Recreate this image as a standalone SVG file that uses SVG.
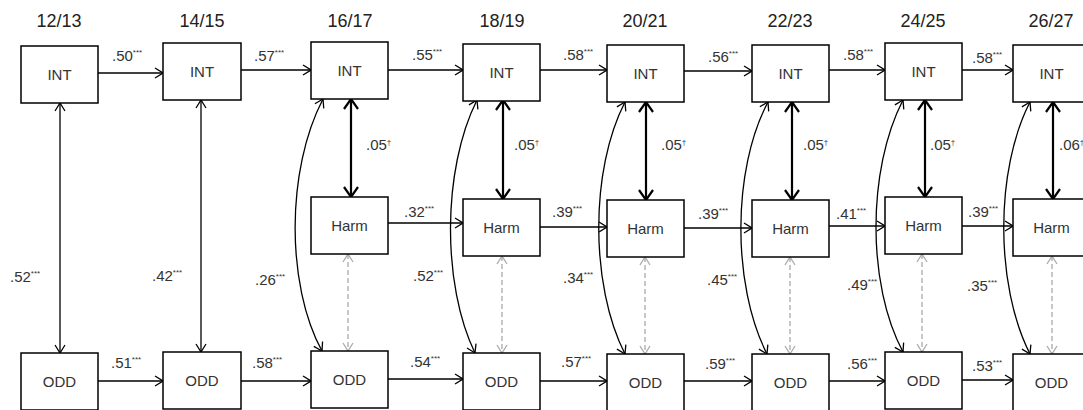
<svg xmlns="http://www.w3.org/2000/svg" width="1083" height="410" viewBox="0 0 1083 410">
<style>
.box{fill:#fff;stroke:#000;stroke-width:1.5}
.lbl{font-family:"Liberation Sans",Arial,sans-serif;font-size:15px;fill:#333;text-anchor:middle}
.hdr{font-family:"Liberation Sans",Arial,sans-serif;font-size:18px;fill:#222;text-anchor:middle}
.coef{font-family:"Liberation Sans",Arial,sans-serif;font-size:15px;fill:#333}
.sup{font-size:8px}
.ln{fill:none;stroke:#000;stroke-width:1.3}
.thick{fill:none;stroke:#000;stroke-width:2.2}
.dash{fill:none;stroke:#aaa;stroke-width:1.3;stroke-dasharray:5 3}
</style>
<defs>
<marker id="ah" viewBox="0 0 10 12" refX="9" refY="6" markerWidth="10" markerHeight="12" markerUnits="userSpaceOnUse" orient="auto-start-reverse">
<path d="M1,1 L9,6 L1,11" fill="none" stroke="#000" stroke-width="1.3"/>
</marker>
<marker id="aht" viewBox="0 0 12 16" refX="11" refY="8" markerWidth="12" markerHeight="16" markerUnits="userSpaceOnUse" orient="auto-start-reverse">
<path d="M1,1 L11,8 L1,15" fill="none" stroke="#000" stroke-width="2.2"/>
</marker>
<marker id="ahg" viewBox="0 0 10 12" refX="9" refY="6" markerWidth="10" markerHeight="12" markerUnits="userSpaceOnUse" orient="auto-start-reverse">
<path d="M1,1 L9,6 L1,11" fill="none" stroke="#aaa" stroke-width="1.3"/>
</marker>
</defs>
<g id="headers">
<text class="hdr" x="59" y="27">12/13</text>
<text class="hdr" x="202" y="27">14/15</text>
<text class="hdr" x="350" y="27">16/17</text>
<text class="hdr" x="502" y="27">18/19</text>
<text class="hdr" x="645" y="27">20/21</text>
<text class="hdr" x="790" y="27">22/23</text>
<text class="hdr" x="923" y="27">24/25</text>
<text class="hdr" x="1051" y="27">26/27</text>
</g>
<g id="connectors">
<path class="ln" marker-end="url(#ah)" d="M98,73 H163"/>
<path class="ln" marker-end="url(#ah)" d="M241,70 H311"/>
<path class="ln" marker-end="url(#ah)" d="M388,70 H463"/>
<path class="ln" marker-end="url(#ah)" d="M540,70 H607"/>
<path class="ln" marker-end="url(#ah)" d="M684,71 H752"/>
<path class="ln" marker-end="url(#ah)" d="M829,70 H885"/>
<path class="ln" marker-end="url(#ah)" d="M962,70 H1013"/>
<path class="ln" marker-end="url(#ah)" d="M388,223 H463"/>
<path class="ln" marker-end="url(#ah)" d="M540,227 H607"/>
<path class="ln" marker-end="url(#ah)" d="M684,228 H752"/>
<path class="ln" marker-end="url(#ah)" d="M829,226 H885"/>
<path class="ln" marker-end="url(#ah)" d="M962,226 H1013"/>
<path class="ln" marker-end="url(#ah)" d="M98,381 H163"/>
<path class="ln" marker-end="url(#ah)" d="M241,381 H311"/>
<path class="ln" marker-end="url(#ah)" d="M388,379 H463"/>
<path class="ln" marker-end="url(#ah)" d="M540,381 H607"/>
<path class="ln" marker-end="url(#ah)" d="M684,381 H752"/>
<path class="ln" marker-end="url(#ah)" d="M829,381 H885"/>
<path class="ln" marker-end="url(#ah)" d="M962,380 H1013"/>
<path class="ln" marker-start="url(#ah)" marker-end="url(#ah)" d="M60,103 V353"/>
<path class="ln" marker-start="url(#ah)" marker-end="url(#ah)" d="M201,100 V352"/>
<path class="ln" marker-start="url(#ah)" marker-end="url(#ah)" d="M323,99 C286,170 286,285 322,351"/>
<path class="ln" marker-start="url(#ah)" marker-end="url(#ah)" d="M477,100 C442,170 442,285 475,353"/>
<path class="ln" marker-start="url(#ah)" marker-end="url(#ah)" d="M625,102 C590,170 590,285 625,354"/>
<path class="ln" marker-start="url(#ah)" marker-end="url(#ah)" d="M768,102 C732,170 732,285 767,354"/>
<path class="ln" marker-start="url(#ah)" marker-end="url(#ah)" d="M903,100 C867,170 867,285 903,352"/>
<path class="ln" marker-start="url(#ah)" marker-end="url(#ah)" d="M1030,102 C995,170 995,285 1030,354"/>
<path class="thick" marker-start="url(#aht)" marker-end="url(#aht)" d="M351,99 V197"/>
<path class="thick" marker-start="url(#aht)" marker-end="url(#aht)" d="M503,100 V199"/>
<path class="thick" marker-start="url(#aht)" marker-end="url(#aht)" d="M646,102 V200"/>
<path class="thick" marker-start="url(#aht)" marker-end="url(#aht)" d="M792,102 V200"/>
<path class="thick" marker-start="url(#aht)" marker-end="url(#aht)" d="M925,100 V197"/>
<path class="thick" marker-start="url(#aht)" marker-end="url(#aht)" d="M1053,102 V199"/>
<path class="dash" marker-start="url(#ahg)" marker-end="url(#ahg)" d="M348,254 V351"/>
<path class="dash" marker-start="url(#ahg)" marker-end="url(#ahg)" d="M502,256 V353"/>
<path class="dash" marker-start="url(#ahg)" marker-end="url(#ahg)" d="M645,257 V354"/>
<path class="dash" marker-start="url(#ahg)" marker-end="url(#ahg)" d="M790,257 V354"/>
<path class="dash" marker-start="url(#ahg)" marker-end="url(#ahg)" d="M922,254 V352"/>
<path class="dash" marker-start="url(#ahg)" marker-end="url(#ahg)" d="M1052,256 V354"/>
</g>
<g id="coefficients">
<text class="coef" x="112" y="61">.50<tspan class="sup" dy="-6">***</tspan></text>
<text class="coef" x="254" y="61">.57<tspan class="sup" dy="-6">***</tspan></text>
<text class="coef" x="412" y="60">.55<tspan class="sup" dy="-6">***</tspan></text>
<text class="coef" x="563" y="60">.58<tspan class="sup" dy="-6">***</tspan></text>
<text class="coef" x="708" y="62">.56<tspan class="sup" dy="-6">***</tspan></text>
<text class="coef" x="843" y="60">.58<tspan class="sup" dy="-6">***</tspan></text>
<text class="coef" x="972" y="63">.58<tspan class="sup" dy="-6">***</tspan></text>
<text class="coef" x="404" y="217">.32<tspan class="sup" dy="-6">***</tspan></text>
<text class="coef" x="552" y="217">.39<tspan class="sup" dy="-6">***</tspan></text>
<text class="coef" x="698" y="219">.39<tspan class="sup" dy="-6">***</tspan></text>
<text class="coef" x="836" y="219">.41<tspan class="sup" dy="-6">***</tspan></text>
<text class="coef" x="968" y="217">.39<tspan class="sup" dy="-6">***</tspan></text>
<text class="coef" x="111" y="368">.51<tspan class="sup" dy="-6">***</tspan></text>
<text class="coef" x="252" y="368">.58<tspan class="sup" dy="-6">***</tspan></text>
<text class="coef" x="410" y="367">.54<tspan class="sup" dy="-6">***</tspan></text>
<text class="coef" x="561" y="367">.57<tspan class="sup" dy="-6">***</tspan></text>
<text class="coef" x="705" y="369">.59<tspan class="sup" dy="-6">***</tspan></text>
<text class="coef" x="847" y="369">.56<tspan class="sup" dy="-6">***</tspan></text>
<text class="coef" x="972" y="371">.53<tspan class="sup" dy="-6">***</tspan></text>
<text class="coef" x="10" y="282">.52<tspan class="sup" dy="-6">***</tspan></text>
<text class="coef" x="152" y="281">.42<tspan class="sup" dy="-6">***</tspan></text>
<text class="coef" x="255" y="285">.26<tspan class="sup" dy="-6">***</tspan></text>
<text class="coef" x="413" y="281">.52<tspan class="sup" dy="-6">***</tspan></text>
<text class="coef" x="563" y="283">.34<tspan class="sup" dy="-6">***</tspan></text>
<text class="coef" x="707" y="285">.45<tspan class="sup" dy="-6">***</tspan></text>
<text class="coef" x="847" y="290">.49<tspan class="sup" dy="-6">***</tspan></text>
<text class="coef" x="967" y="291">.35<tspan class="sup" dy="-6">***</tspan></text>
<text class="coef" x="366" y="150">.05<tspan class="sup" dy="-5">†</tspan></text>
<text class="coef" x="514" y="150">.05<tspan class="sup" dy="-5">†</tspan></text>
<text class="coef" x="661" y="150">.05<tspan class="sup" dy="-5">†</tspan></text>
<text class="coef" x="803" y="150">.05<tspan class="sup" dy="-5">†</tspan></text>
<text class="coef" x="930" y="150">.05<tspan class="sup" dy="-5">†</tspan></text>
<text class="coef" x="1059" y="150">.06<tspan class="sup" dy="-5">†</tspan></text>
</g>
<g id="int1"><rect class="box" x="21" y="46" width="77" height="57"/><text class="lbl" x="59.5" y="80">INT</text></g>
<g id="odd1"><rect class="box" x="21" y="353" width="77" height="57"/><text class="lbl" x="59.5" y="387">ODD</text></g>
<g id="int2"><rect class="box" x="163" y="43" width="78" height="57"/><text class="lbl" x="202" y="77">INT</text></g>
<g id="odd2"><rect class="box" x="163" y="352" width="78" height="57"/><text class="lbl" x="202" y="386">ODD</text></g>
<g id="int3"><rect class="box" x="311" y="42" width="77" height="57"/><text class="lbl" x="349.5" y="76">INT</text></g>
<g id="harm3"><rect class="box" x="311" y="197" width="77" height="57"/><text class="lbl" x="349.5" y="231">Harm</text></g>
<g id="odd3"><rect class="box" x="311" y="351" width="77" height="57"/><text class="lbl" x="349.5" y="385">ODD</text></g>
<g id="int4"><rect class="box" x="463" y="44" width="77" height="57"/><text class="lbl" x="501.5" y="78">INT</text></g>
<g id="harm4"><rect class="box" x="463" y="199" width="77" height="57"/><text class="lbl" x="501.5" y="233">Harm</text></g>
<g id="odd4"><rect class="box" x="463" y="353" width="77" height="57"/><text class="lbl" x="501.5" y="387">ODD</text></g>
<g id="int5"><rect class="box" x="607" y="45" width="77" height="57"/><text class="lbl" x="645.5" y="79">INT</text></g>
<g id="harm5"><rect class="box" x="607" y="200" width="77" height="57"/><text class="lbl" x="645.5" y="234">Harm</text></g>
<g id="odd5"><rect class="box" x="607" y="354" width="77" height="57"/><text class="lbl" x="645.5" y="388">ODD</text></g>
<g id="int6"><rect class="box" x="752" y="45" width="77" height="57"/><text class="lbl" x="790.5" y="79">INT</text></g>
<g id="harm6"><rect class="box" x="752" y="200" width="77" height="57"/><text class="lbl" x="790.5" y="234">Harm</text></g>
<g id="odd6"><rect class="box" x="752" y="354" width="77" height="57"/><text class="lbl" x="790.5" y="388">ODD</text></g>
<g id="int7"><rect class="box" x="885" y="43" width="77" height="57"/><text class="lbl" x="923.5" y="77">INT</text></g>
<g id="harm7"><rect class="box" x="885" y="197" width="77" height="57"/><text class="lbl" x="923.5" y="231">Harm</text></g>
<g id="odd7"><rect class="box" x="885" y="352" width="77" height="57"/><text class="lbl" x="923.5" y="386">ODD</text></g>
<g id="int8"><rect class="box" x="1013" y="45" width="77" height="57"/><text class="lbl" x="1051.5" y="79">INT</text></g>
<g id="harm8"><rect class="box" x="1013" y="199" width="77" height="57"/><text class="lbl" x="1051.5" y="233">Harm</text></g>
<g id="odd8"><rect class="box" x="1013" y="354" width="77" height="57"/><text class="lbl" x="1051.5" y="388">ODD</text></g>
</svg>
